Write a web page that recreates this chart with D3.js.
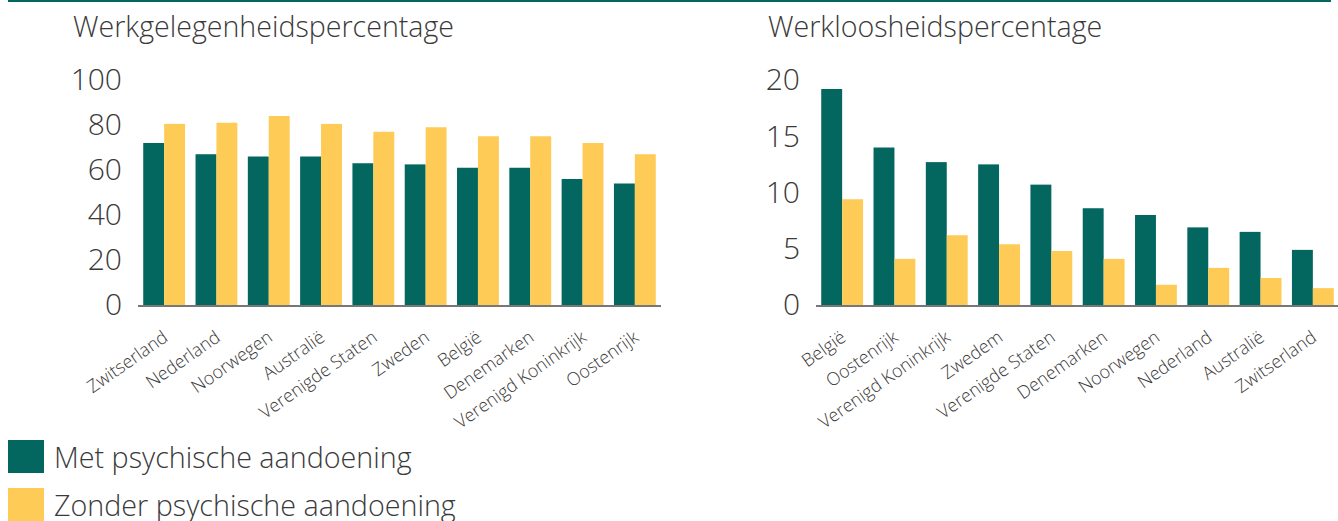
<!DOCTYPE html>
<html>
<head>
<meta charset="utf-8">
<script src="https://cdn.jsdelivr.net/npm/d3@7"></script>
<style>
  body { margin: 0; background: #fff; }
  svg text { font-family: "Open Sans", "Noto Sans", sans-serif; font-weight: 300; fill: #3a3a3a; }
</style>
</head>
<body>
<div id="chart"></div>
<script>
var series = ["Met psychische aandoening", "Zonder psychische aandoening"];
var colors = ["#03665f", "#fecb57"];

// Werkgelegenheidspercentage
var empCountries = ["Zwitserland", "Nederland", "Noorwegen", "Australië", "Verenigde Staten",
                    "Zweden", "België", "Denemarken", "Verenigd Koninkrijk", "Oostenrijk"];
var empWith = [72, 67, 66, 66, 63, 62.5, 61, 61, 56, 54];
var empWithout = [80.5, 81, 84, 80.5, 77, 79, 75, 75, 72, 67];
var empTicks = [0, 20, 40, 60, 80, 100];

// Werkloosheidspercentage
var unCountries = ["België", "Oostenrijk", "Verenigd Koninkrijk", "Zwedem", "Verenigde Staten",
                   "Denemarken", "Noorwegen", "Nederland", "Australië", "Zwitserland"];
var unWith = [19.2, 14.0, 12.7, 12.5, 10.7, 8.6, 8.0, 6.9, 6.5, 4.9];
var unWithout = [9.4, 4.1, 6.2, 5.4, 4.8, 4.1, 1.8, 3.3, 2.4, 1.5];
var unTicks = [0, 5, 10, 15, 20];

var w = 1338;
var h = 521;

var svg = d3.select("#chart")
            .append("svg")
            .attr("width", w)
            .attr("height", h);

// thin line at the top
svg.append("rect")
    .attr("x", 8).attr("y", 0)
    .attr("width", 1323).attr("height", 2)
    .attr("fill", colors[0]);

function barChart(x0, titleX, title, countries, vals1, vals2, ticks, yMax) {
    var g = svg.append("g").attr("transform", "translate(" + x0 + ",0)");
    var left = 65, right = 588, y0 = 305, yTop = 80;

    var x = d3.scaleBand()
              .domain(countries)
              .range([left, right])
              .paddingInner(0.2)
              .paddingOuter(0.1);
    var xs = d3.scaleBand()
               .domain([0, 1])
               .range([0, x.bandwidth()]);
    var y = d3.scaleLinear()
              .domain([0, yMax])
              .range([y0, yTop]);

    g.append("text")
        .attr("x", titleX)
        .attr("y", 37)
        .style("font-size", "28.6px")
        .text(title);

    var yAxis = g.append("g")
        .attr("transform", "translate(" + (left - 16) + ",0)")
        .call(d3.axisLeft(y).tickValues(ticks).tickSize(0).tickPadding(0));
    yAxis.select(".domain").remove();
    yAxis.selectAll("text")
        .style("font-size", "30px")
        .attr("dy", "0.33em");

    var groups = g.selectAll("g.grp")
        .data(countries)
        .enter()
        .append("g")
        .attr("class", "grp")
        .attr("transform", function(d){ return "translate(" + x(d) + ",0)"; });

    groups.selectAll("rect")
        .data(function(d, i){ return [vals1[i], vals2[i]]; })
        .enter()
        .append("rect")
        .attr("x", function(d, i){ return xs(i); })
        .attr("y", function(d){ return y(d); })
        .attr("width", xs.bandwidth())
        .attr("height", function(d){ return y0 - y(d); })
        .attr("fill", function(d, i){ return colors[i]; });

    // baseline
    g.append("line")
        .attr("x1", left).attr("x2", right)
        .attr("y1", y0 + 1).attr("y2", y0 + 1)
        .attr("stroke", "#777")
        .attr("stroke-width", 2);

    // rotated category labels
    g.selectAll("text.cat")
        .data(countries)
        .enter()
        .append("text")
        .attr("class", "cat")
        .attr("text-anchor", "end")
        .style("font-size", "18px")
        .attr("transform", function(d){
            return "translate(" + (x(d) + x.bandwidth() / 2 + 5) + ",340) rotate(-35)";
        })
        .text(function(d){ return d; });
}

barChart(73, 0, "Werkgelegenheidspercentage", empCountries, empWith, empWithout, empTicks, 100);
barChart(751, 17, "Werkloosheidspercentage", unCountries, unWith, unWithout, unTicks, 20);

// legend
var legend = svg.selectAll("g.legend")
    .data(series)
    .enter()
    .append("g")
    .attr("class", "legend")
    .attr("transform", function(d, i){ return "translate(8," + (440 + i * 48) + ")"; });

legend.append("rect")
    .attr("width", 36)
    .attr("height", 33)
    .attr("fill", function(d, i){ return colors[i]; });

legend.append("text")
    .attr("x", 46)
    .attr("y", 28)
    .style("font-size", "28.7px")
    .text(function(d){ return d; });
</script>
</body>
</html>
